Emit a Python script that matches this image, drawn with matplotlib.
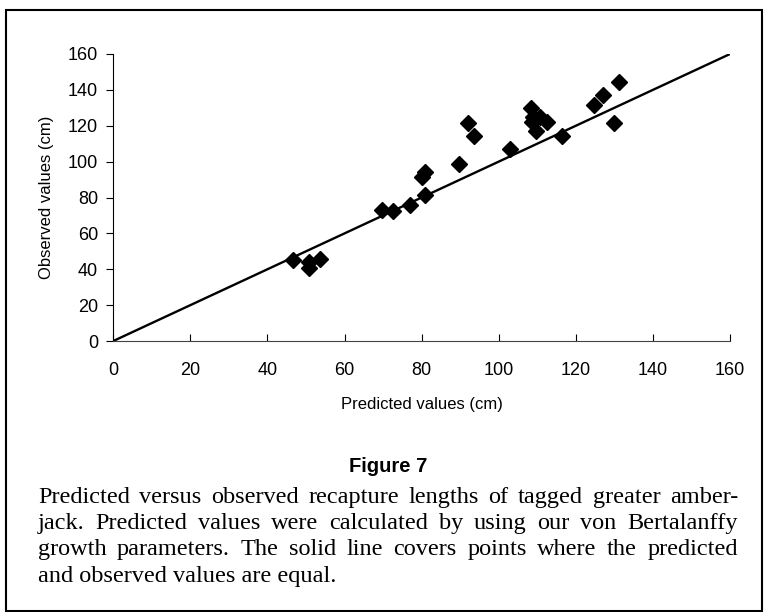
import matplotlib.pyplot as plt
from matplotlib.patches import Rectangle

# predicted (x) vs observed (y) recapture lengths, cm
predicted = [46.7, 50.7, 50.7, 53.6, 69.6, 72.6, 76.9, 80.2, 80.8, 80.8,
             89.8, 92.0, 93.5, 103.0, 108.4, 108.6, 108.9, 109.7, 110.6, 112.5,
             116.3, 124.6, 127.0, 129.8, 131.2]
observed = [45.3, 43.8, 40.7, 45.5, 73.1, 72.7, 75.8, 91.4, 94.3, 81.4,
            98.4, 121.7, 114.1, 106.9, 130.0, 122.0, 125.0, 117.0, 125.0, 122.0,
            114.2, 131.5, 136.9, 121.6, 144.2]
line_x = [0, 160]
line_y = [0, 160]
ticks = [0, 20, 40, 60, 80, 100, 120, 140, 160]

caption = [
    "Predicted versus observed recapture lengths of tagged greater amber-",
    "jack. Predicted values were calculated by using our von Bertalanffy",
    "growth parameters. The solid line covers points where the predicted",
    "and observed values are equal.",
]

W, H = 765, 612
fig = plt.figure(figsize=(W / 100, H / 100), dpi=100)
ax = fig.add_axes([113.3 / W, 1 - 341 / H, (730 - 113.3) / W, (341 - 54) / H])

ax.plot(line_x, line_y, color='black', lw=1.7, zorder=2)
ax.plot(predicted, observed, 'D', color='black', ms=8.5, zorder=3)

ax.set_xlim(0, 160)
ax.set_ylim(0, 160)
ax.set_xticks(ticks)
ax.set_yticks(ticks)
for s in ['top', 'right']:
    ax.spines[s].set_visible(False)
ax.spines['left'].set_linewidth(0.8)
ax.spines['bottom'].set_linewidth(0.8)
ax.spines['bottom'].set_color('#444444')
ax.tick_params(axis='x', direction='in', length=5, width=0.8, pad=15, labelsize=13)
ax.tick_params(axis='y', direction='out', length=5, width=0.8, pad=6, labelsize=13)
for lab in ax.get_xticklabels() + ax.get_yticklabels():
    lab.set_family('Liberation Sans')

ax.set_xlabel('Predicted values (cm)', family='Liberation Sans', fontsize=12, labelpad=13)
ax.set_ylabel('Observed values (cm)', family='Liberation Sans', fontsize=12, labelpad=10)

fig.text(388 / W, 1 - 467 / H, 'Figure 7', family='Liberation Sans', fontsize=14.5,
         fontweight='bold', ha='center', va='center')

# justified caption
fig.canvas.draw()
renderer = fig.canvas.get_renderer()
x0, x1 = 38, 738
baselines = [503, 529, 555, 582]
cap_kw = dict(family='Liberation Serif', fontsize=17.5, va='baseline')
for i, line in enumerate(caption):
    y = 1 - baselines[i] / H
    if i == len(caption) - 1:
        fig.text(x0 / W, y, line, **cap_kw)
        continue
    words = line.split()
    widths = []
    for w in words:
        t = fig.text(0, 0, w, **cap_kw)
        widths.append(t.get_window_extent(renderer).width)
        t.remove()
    gap = (x1 - x0 - sum(widths)) / (len(words) - 1)
    x = x0
    for w, wd in zip(words, widths):
        fig.text(x / W, y, w, **cap_kw)
        x += wd + gap

fig.patches.append(Rectangle((6 / W, 1 - 611 / H), (762 - 6) / W, (611 - 10) / H,
                             transform=fig.transFigure, fill=False, lw=1.5,
                             edgecolor='black'))

fig.savefig('out.png', dpi=100)
